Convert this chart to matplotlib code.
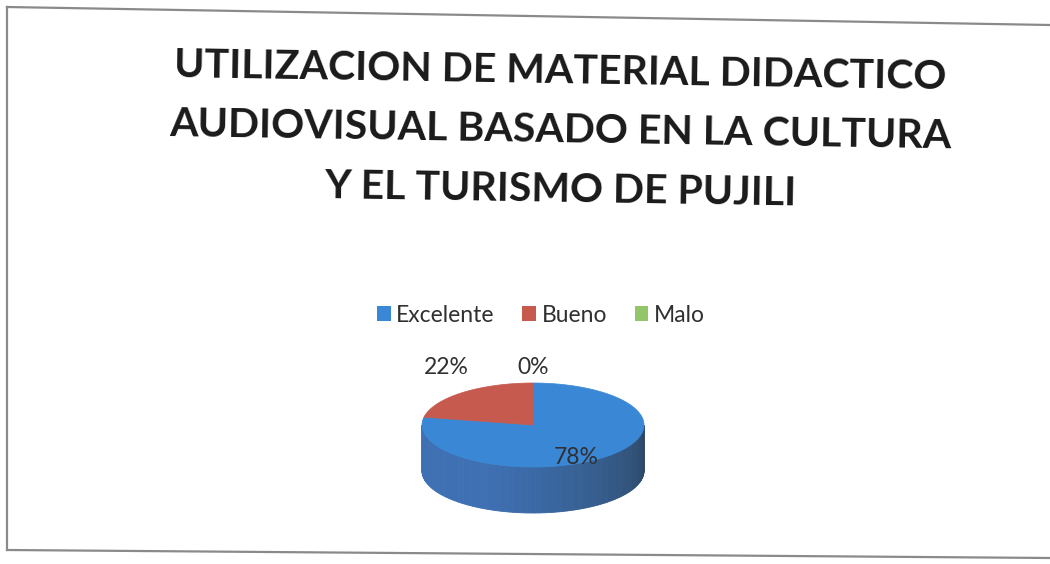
import numpy as np
import matplotlib
matplotlib.use("Agg")
import matplotlib.pyplot as plt
from matplotlib.patches import Polygon, Patch
from matplotlib.lines import Line2D

title_lines = ["UTILIZACION DE MATERIAL DIDACTICO",
               "AUDIOVISUAL BASADO EN LA CULTURA",
               "Y EL TURISMO DE PUJILI"]
categories = ["Excelente", "Bueno", "Malo"]
values = [78, 22, 0]
pct_labels = ["78%", "22%", "0%"]
top_colors = ["#3987d5", "#c65a4f", "#93c66b"]

W, H = 1050, 564
fig = plt.figure(figsize=(W / 100, H / 100), dpi=100)
ax = fig.add_axes([0, 0, 1, 1])
ax.set_xlim(0, W)
ax.set_ylim(H, 0)
ax.axis("off")

# scanned frame
ax.add_line(Line2D([7, 1050], [7, 25], color="#8a8a8a", lw=1.6))
ax.add_line(Line2D([7, 7], [7, 550], color="#8a8a8a", lw=1.6))
ax.add_line(Line2D([7, 1050], [550, 558], color="#8a8a8a", lw=1.6))

font = "Lato"
for i, line in enumerate(title_lines):
    ax.text(560, 83 + i * 59.5, line, ha="center", va="baseline",
            rotation=-0.9, rotation_mode="anchor",
            fontsize=29.5, fontweight="bold", family=font, color="#1a1a1a")

# 3D pie
cx, cy, rx, ry, depth = 533, 425, 111, 42, 46
total = float(sum(values))
fr = np.array(values) / total
starts = 90 - 360 * np.concatenate([[0], np.cumsum(fr)[:-1]])
ends = starts - 360 * fr


def pt(theta, dy=0.0):
    t = np.radians(theta)
    return cx + rx * np.cos(t), cy - ry * np.sin(t) + dy

# side (front half, theta in [-180, 0]) with shading gradient
side_base = np.array([0x3e, 0x70, 0xb3]) / 255
side_dark = np.array([0x2c, 0x47, 0x63]) / 255
n = 120
for k in range(n):
    a0 = -180 + 180 * k / n
    a1 = -180 + 180 * (k + 1) / n
    mid = (a0 + a1) / 2
    owner = 0
    for j in range(len(values)):
        if fr[j] <= 0:
            continue
        m = mid
        while m > starts[j]:
            m -= 360
        while m <= ends[j]:
            m += 360
        if ends[j] <= m <= starts[j]:
            owner = j
    s = (mid + 180) / 180
    w = np.clip((s - 0.35) / 0.65, 0, 1) ** 1.2
    if owner == 0:
        c = side_base * (1 - w) + side_dark * w
    else:
        base = np.array(matplotlib.colors.to_rgb(top_colors[owner])) * 0.75
        c = base * (1 - 0.4 * w)
    xs0, ys0 = pt(a0)
    xs1, ys1 = pt(a1)
    poly = [(xs0, ys0), (xs1, ys1), (xs1, ys1 + depth), (xs0, ys0 + depth)]
    ax.add_patch(Polygon(poly, closed=True, facecolor=c, edgecolor=c, lw=0.6))

# top face
for j in range(len(values)):
    if fr[j] <= 0:
        continue
    th = np.linspace(starts[j], ends[j], 200)
    xs = cx + rx * np.cos(np.radians(th))
    ys = cy - ry * np.sin(np.radians(th))
    poly = np.column_stack([np.r_[cx, xs], np.r_[cy, ys]])
    ax.add_patch(Polygon(poly, closed=True, facecolor=top_colors[j],
                         edgecolor=top_colors[j], lw=0.5))

# data labels
label_pos = [(576, 457), (446, 368), (533, 367)]
for lab, (x, y) in zip(pct_labels, label_pos):
    ax.text(x, y, lab, ha="center", va="center", fontsize=16.5,
            family=font, color="#303030")

handles = [Patch(facecolor=c, edgecolor="none") for c in top_colors]
leg = ax.legend(handles, categories, ncol=3, loc="center",
                bbox_to_anchor=(541 / W, 1 - 315 / H), frameon=False,
                prop={"family": font, "size": 16.5}, handlelength=0.6,
                handleheight=0.6, handletextpad=0.25, columnspacing=1.2)
for t in leg.get_texts():
    t.set_color("#303030")

fig.savefig("out.png", dpi=100)
